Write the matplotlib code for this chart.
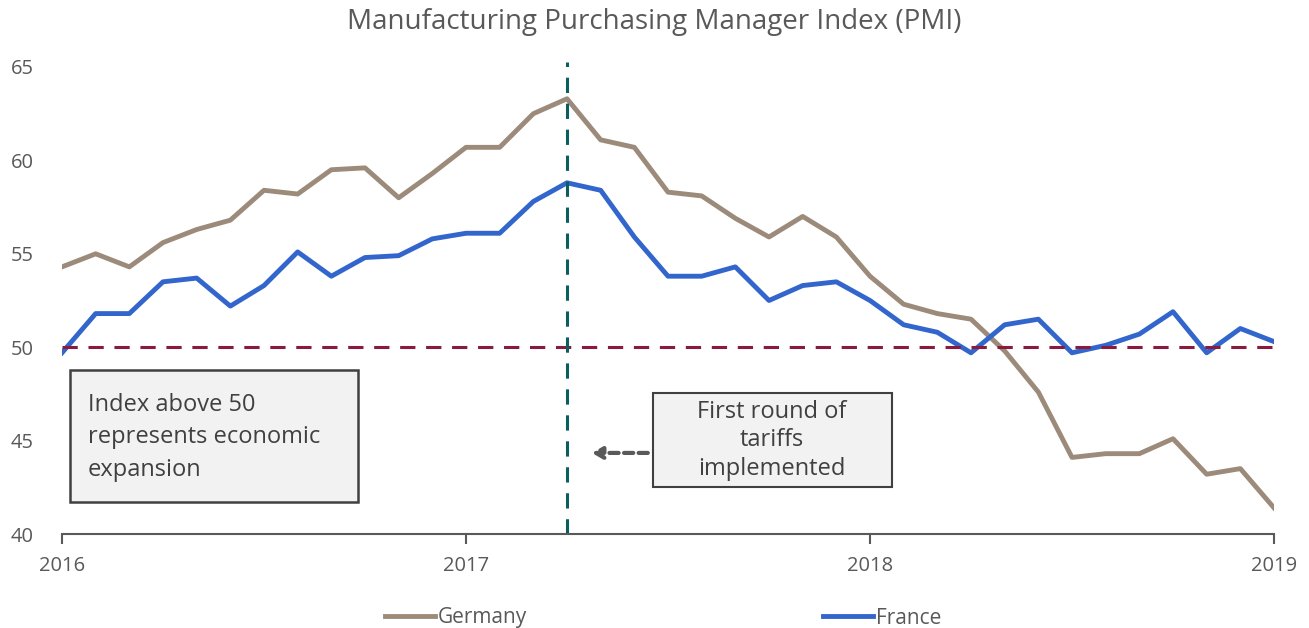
import matplotlib
matplotlib.use("Agg")
import matplotlib.pyplot as plt
from matplotlib.patches import Rectangle
from matplotlib.lines import Line2D

plt.rcParams['font.family'] = ['Open Sans', 'DejaVu Sans']

months = list(range(37))  # Jan 2016 .. Jan 2019
germany = [54.3, 55.0, 54.3, 55.6, 56.3, 56.8, 58.4, 58.2, 59.5, 59.6, 58.0, 59.3,
           60.7, 60.7, 62.5, 63.3, 61.1, 60.7, 58.3, 58.1, 56.9, 55.9, 57.0, 55.9,
           53.8, 52.3, 51.8, 51.5, 49.8, 47.6, 44.1, 44.3, 44.3, 45.1, 43.2, 43.5, 41.4]
france = [49.7, 51.8, 51.8, 53.5, 53.7, 52.2, 53.3, 55.1, 53.8, 54.8, 54.9, 55.8,
          56.1, 56.1, 57.8, 58.8, 58.4, 55.9, 53.8, 53.8, 54.3, 52.5, 53.3, 53.5,
          52.5, 51.2, 50.8, 49.7, 51.2, 51.5, 49.7, 50.1, 50.7, 51.9, 49.7, 51.0, 50.3]
year_ticks = [0, 12, 24, 36]
year_labels = ["2016", "2017", "2018", "2019"]
y_ticks = [40, 45, 50, 55, 60, 65]
threshold = 50
tariff_month = 15  # April 2017

GREY = "#595959"
GER_C = "#9C8B7A"
FRA_C = "#3366CC"
fig = plt.figure(figsize=(13.09, 6.28), dpi=100)
ax = fig.add_axes([62/1309, 1-534/628, (1274-62)/1309, (534-67)/628])

ax.plot(months, germany, color=GER_C, lw=3.5, label="Germany")
ax.plot(months, france, color=FRA_C, lw=3.5, label="France")
ax.axhline(threshold, color="#8B1A3F", lw=2.2, dashes=(5, 3.5))
ax.axvline(tariff_month, ymin=0, ymax=1.01, color="#0B5E5E", lw=2.2, dashes=(5, 3.5), clip_on=False)

ax.set_xlim(0, 36)
ax.set_ylim(40, 65)
ax.set_xticks(year_ticks)
ax.set_xticklabels(year_labels)
ax.set_yticks(y_ticks)
for s in ["top", "right", "left"]:
    ax.spines[s].set_visible(False)
ax.spines["bottom"].set_color(GREY)
ax.spines["bottom"].set_linewidth(1.5)
ax.tick_params(axis="x", colors=GREY, labelsize=14.5, length=7, width=1.5, pad=9)
ax.tick_params(axis="y", colors=GREY, labelsize=14.5, length=0, pad=37)
for lab in ax.get_yticklabels():
    lab.set_horizontalalignment("left")

fig.suptitle("Manufacturing Purchasing Manager Index (PMI)", y=0.988, fontsize=20, color=GREY)

# annotation box 1
ax.add_patch(Rectangle((0.24, 41.71), 8.55, 7.07, facecolor="#F2F2F2", edgecolor="#404040", lw=1.8, zorder=3))
for yy, t in zip([46.9, 45.19, 43.43], ["Index above 50", "represents economic", "expansion"]):
    ax.text(0.77, yy, t, ha="left", va="center", fontsize=17, color="#404040", zorder=4)

# annotation box 2
ax.add_patch(Rectangle((17.55, 42.52), 7.10, 5.03, facecolor="#F2F2F2", edgecolor="#404040", lw=1.5, zorder=3))
for yy, t in zip([46.53, 45.03, 43.48], ["First round of", "tariffs", "implemented"]):
    ax.text(21.09, yy, t, ha="center", va="center", fontsize=17, color="#404040", zorder=4)

ax.annotate("", xy=(15.74, 44.34), xytext=(17.40, 44.34),
            arrowprops=dict(arrowstyle="-|>,head_length=0.6,head_width=0.35", color=GREY,
                            lw=3, linestyle=(0, (2.2, 1.3)), shrinkA=0, shrinkB=0))

for name, col, xpos in [("Germany", GER_C, 385/1309), ("France", FRA_C, 823/1309)]:
    h = Line2D([], [], color=col, lw=3.5)
    leg = fig.legend([h], [name], loc="center left", bbox_to_anchor=(xpos, 1-618/628),
                     frameon=False, fontsize=15, handlelength=2.4, handletextpad=0.15,
                     borderpad=0, borderaxespad=0)
    for t in leg.get_texts():
        t.set_color(GREY)

fig.savefig("out.png", dpi=100)
